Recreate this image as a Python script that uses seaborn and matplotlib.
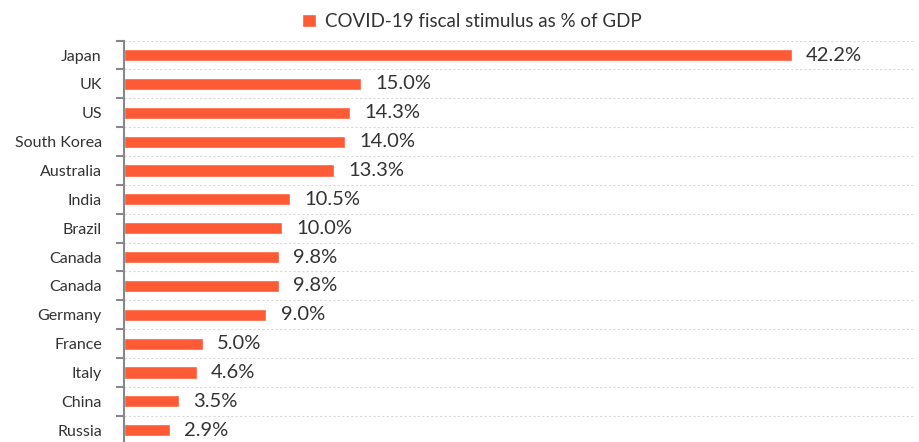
import matplotlib
matplotlib.use("Agg")
import matplotlib.pyplot as plt
import numpy as np
import pandas as pd
import seaborn as sns

countries = ["Japan", "UK", "US", "South Korea", "Australia", "India", "Brazil",
             "Canada", "Canada", "Germany", "France", "Italy", "China", "Russia"]
stimulus = [42.2, 15.0, 14.3, 14.0, 13.3, 10.5, 10.0, 9.8, 9.8, 9.0, 5.0, 4.6, 3.5, 2.9]
series_name = "COVID-19 fiscal stimulus as % of GDP"
bar_color = "#FF5A36"

# unique row keys so the duplicate "Canada" gets its own bar
df = pd.DataFrame({"row": [str(i) for i in range(len(countries))], "value": stimulus})

sns.set_theme(style="white")
plt.rcParams["font.family"] = ["Lato", "DejaVu Sans"]

fig = plt.figure(figsize=(9.2, 4.42), dpi=100)
ax = fig.add_axes([124 / 920, -2.6 / 442, 791 / 920, 404 / 442])

sns.barplot(data=df, x="value", y="row", color=bar_color, width=0.42,
            saturation=1, ax=ax, label=series_name)

ax.set_xlim(0, 50)
ax.set_ylim(len(countries) - 0.5, -0.5)
ax.set_xlabel("")
ax.set_ylabel("")
ax.set_xticks([])
ax.set_yticks(range(len(countries)))
ax.set_yticklabels(countries)

for i, v in enumerate(stimulus):
    ax.text(v + 0.9, i, f"{v:.1f}%", va="center", ha="left", fontsize=14.5,
            color="#333333")

# boundaries: dashed grid + tick marks
bounds = np.arange(-0.5, len(countries), 1.0)
ax.set_yticks(bounds, minor=True)
for b in bounds[:-1]:
    ax.axhline(b, color="#d9d9d9", lw=0.8, ls=(0, (2, 2)), zorder=0)
ax.tick_params(axis="y", which="minor", length=6, width=1.5, color="#888888", left=True)
ax.tick_params(axis="y", which="major", length=0, labelsize=11.5, labelcolor="#333333", pad=16)

for s in ["top", "right", "bottom"]:
    ax.spines[s].set_visible(False)
ax.spines["left"].set_color("#888888")
ax.spines["left"].set_linewidth(1.5)

leg = ax.legend(loc="upper center", bbox_to_anchor=(0.44, 1.11), frameon=False,
                fontsize=13.5, handlelength=0.75, handleheight=0.75, handletextpad=0.5)
for t in leg.get_texts():
    t.set_color("#333333")

fig.savefig("out.png", dpi=100)
